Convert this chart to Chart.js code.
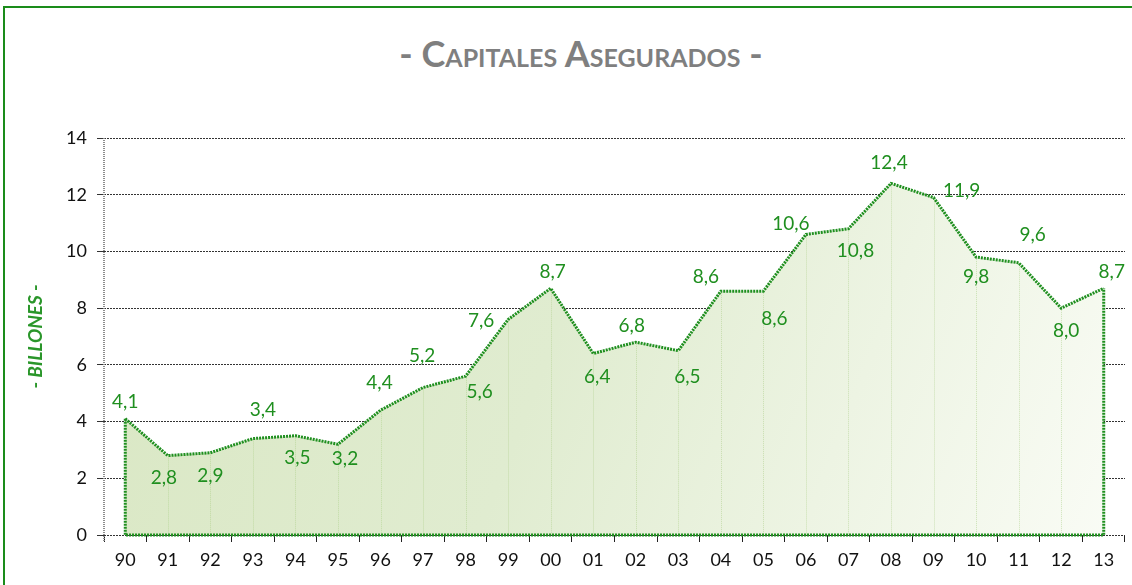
<!DOCTYPE html>
<html>
<head>
<meta charset="utf-8">
<script src="https://cdn.jsdelivr.net/npm/chart.js@4/dist/chart.umd.min.js"></script>
<style>
  body { margin: 0; overflow: hidden; background: #fff; }
  #wrap { position: relative; width: 1132px; height: 585px; overflow: hidden; }
  #frame { position: absolute; left: 3px; top: 6px; width: 1200px; height: 700px; border: 2px solid #1a8c1a; }
  #title {
    position: absolute; left: 0; top: 35px; width: 1162px; text-align: center;
    font-family: Lato, sans-serif; font-weight: bold; font-size: 36px; line-height: 1;
    font-variant: small-caps; color: #7f7f7f;
  }
  canvas { position: absolute; left: 0; top: 0; }
</style>
</head>
<body>
<div id="wrap">
  <div id="frame"></div>
  <div id="title">- Capitales Asegurados -</div>
  <canvas id="chart" width="1132" height="585"></canvas>
</div>
<script>
// data
const years = ["90", "91", "92", "93", "94", "95", "96", "97", "98", "99", "00", "01",
               "02", "03", "04", "05", "06", "07", "08", "09", "10", "11", "12", "13"];
const capitales = [4.1, 2.8, 2.9, 3.4, 3.5, 3.2, 4.4, 5.2, 5.6, 7.6, 8.7, 6.4,
                   6.8, 6.5, 8.6, 8.6, 10.6, 10.8, 12.4, 11.9, 9.8, 9.6, 8.0, 8.7];
const yTicks = [0, 2, 4, 6, 8, 10, 12, 14];

// where each value label sits relative to its point (dx, dy in px)
const labelOffsets = [[0, -17], [-4, 22], [0, 23], [10, -29], [2, 22], [7, 15], [-1, -27], [-1, -32],
                      [14, 16], [-27, 1], [2, -16], [4, 23], [-4, -16], [9, 26], [-15, -14], [11, 28],
                      [-15, -11], [7, 22], [-2, -20], [28, -7], [0, 20], [14, -28], [5, 23], [8, -16]];

const GREEN = "#1f8f1f";
const FONT = "Lato, 'Open Sans', sans-serif";

// drop lines + closed area outline + value labels
const areaExtras = {
  id: "areaExtras",
  beforeDatasetDraw(chart) {
    const ctx = chart.ctx;
    const pts = chart.getDatasetMeta(0).data;
    const bottom = chart.scales.y.getPixelForValue(0);
    ctx.save();
    ctx.strokeStyle = "rgba(160,200,120,0.45)";
    ctx.lineWidth = 1;
    ctx.setLineDash([1, 1]);
    pts.forEach(function (p, i) {
      if (i === 0 || i === pts.length - 1) return;
      ctx.beginPath();
      ctx.moveTo(Math.round(p.x) + 0.5, p.y);
      ctx.lineTo(Math.round(p.x) + 0.5, bottom);
      ctx.stroke();
    });
    ctx.restore();
  },
  afterDatasetsDraw(chart) {
    const ctx = chart.ctx;
    const area = chart.chartArea;
    const pts = chart.getDatasetMeta(0).data;
    const bottom = chart.scales.y.getPixelForValue(0);
    const first = pts[0], last = pts[pts.length - 1];

    // y axis line (grey dotted)
    ctx.save();
    ctx.strokeStyle = "#8c8c8c";
    ctx.lineWidth = 2;
    ctx.setLineDash([1, 1]);
    ctx.beginPath();
    ctx.moveTo(area.left, area.top);
    ctx.lineTo(area.left, area.bottom + 7);
    ctx.stroke();

    // area outline: left edge, bottom, right edge
    ctx.strokeStyle = GREEN;
    ctx.lineWidth = 3;
    ctx.setLineDash([2, 1]);
    ctx.beginPath();
    ctx.moveTo(first.x, first.y);
    ctx.lineTo(first.x, bottom);
    ctx.lineTo(last.x, bottom);
    ctx.lineTo(last.x, last.y);
    ctx.stroke();
    ctx.restore();

    // value labels
    ctx.save();
    ctx.fillStyle = GREEN;
    ctx.font = "19px " + FONT;
    ctx.textAlign = "center";
    ctx.textBaseline = "middle";
    pts.forEach(function (p, i) {
      const txt = capitales[i].toFixed(1).replace(".", ",");
      ctx.fillText(txt, p.x + labelOffsets[i][0], p.y + labelOffsets[i][1]);
    });
    ctx.restore();
  }
};

new Chart(document.getElementById("chart"), {
  type: "line",
  data: {
    labels: years,
    datasets: [
      {
        data: capitales,
        borderColor: GREEN,
        borderWidth: 3,
        borderDash: [2, 1],
        pointRadius: 0,
        tension: 0,
        fill: "origin",
        backgroundColor: function (context) {
          const ca = context.chart.chartArea;
          if (!ca) return "#e0ecd0";
          const g = context.chart.ctx.createLinearGradient(ca.left, ca.top, ca.right, ca.bottom);
          g.addColorStop(0, "#d9e7c3");
          g.addColorStop(0.45, "#e0ecd0");
          g.addColorStop(1, "#fafcf6");
          return g;
        },
      },
    ],
  },
  options: {
    responsive: false,
    animation: false,
    devicePixelRatio: 1,
    layout: { padding: { top: 138, right: 7, left: 0, bottom: 0 } },
    plugins: {
      legend: { display: false },
      tooltip: { enabled: false },
    },
    scales: {
      x: {
        offset: true,
        grid: { offset: true, drawOnChartArea: false, tickLength: 7, color: "#222" },
        border: { display: false },
        ticks: { color: "#111", font: { family: FONT, size: 18 }, padding: 7, maxRotation: 0, autoSkip: false },
        afterFit: function (s) { s.height = 50; },
      },
      y: {
        min: 0,
        max: 14,
        afterBuildTicks: function (s) { s.ticks = yTicks.map(function (v) { return { value: v }; }); },
        grid: { color: "#333", tickLength: 7 },
        border: { display: false, dash: [2, 1] },
        ticks: { color: "#111", font: { family: FONT, size: 18 }, padding: 10 },
        title: {
          display: true,
          text: "- BILLONES -",
          color: "#2a962a",
          font: { family: FONT, size: 19, weight: "bold", style: "italic" },
          padding: { top: 24, bottom: 0 },
        },
        afterFit: function (s) { s.width = 104; },
      },
    },
  },
  plugins: [areaExtras],
});
</script>
</body>
</html>
